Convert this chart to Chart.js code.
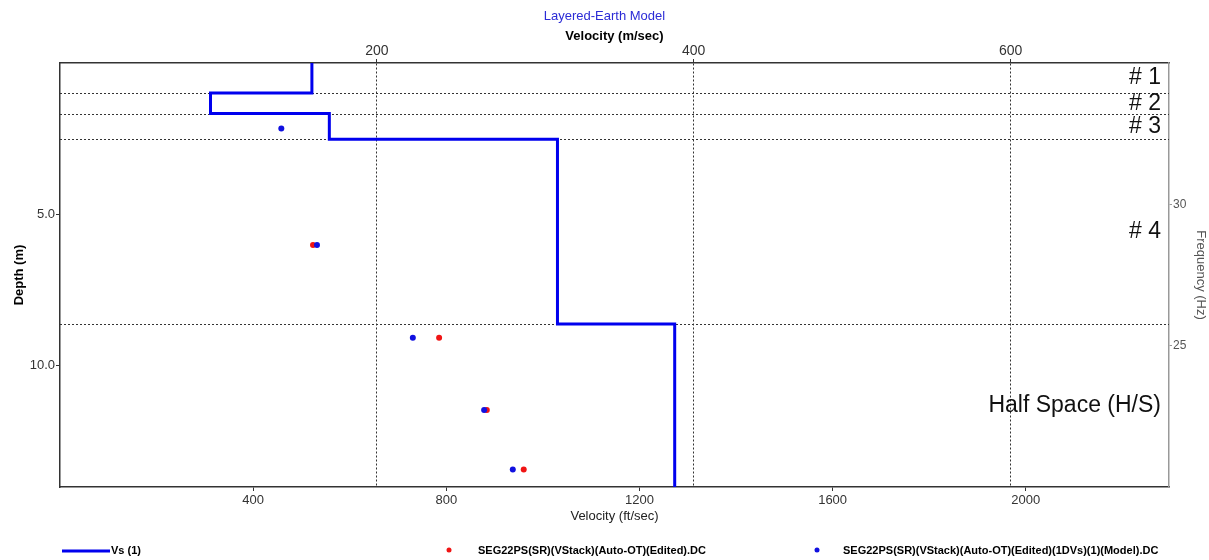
<!DOCTYPE html>
<html>
<head>
<meta charset="utf-8">
<title>Layered-Earth Model</title>
<script src="https://cdn.jsdelivr.net/npm/chart.js@4.4.0/dist/chart.umd.min.js"></script>
<style>
  html, body { margin: 0; padding: 0; background: #fff; }
  canvas { display: block; }
</style>
</head>
<body>
<canvas id="vsChart" width="1209" height="560"></canvas>
<script>
// Layer model: depth to top of each layer (m) and its Vs (m/sec)
const layerTops = [0, 0.99, 1.67, 2.52, 8.62];
const layerVs = [159, 95, 170, 314, 388];
const layerNames = ['# 1', '# 2', '# 3', '# 4', 'Half Space (H/S)'];
const maxDepth = 14;

// Dispersion curve picks (m/sec) at their pseudo-depth (m)
const dcDepth = [6.01, 9.07, 11.46, 13.42];
const dcVel = [159.7, 239.3, 269.4, 292.7];
const modelDepth = [2.16, 6.01, 9.07, 11.46, 13.42];
const modelVel = [139.7, 162.2, 222.7, 267.7, 285.8];

// Axis ticks
const velTicksMs = [200, 400, 600];
const velTicksFt = [400, 800, 1200, 1600, 2000];
const depthTicks = [5, 10];
const freqTicks = [25, 30];
const freqRange = [20, 35];

const maxVelMs = 700;
const FT_PER_M = 3.28084;
const FONT = '"Liberation Sans", Arial, sans-serif';

const VS_BLUE = '#0000ee';
const DC_RED = '#f01414';
const MODEL_BLUE = '#1010e0';

// Turn the layer table into a stepped Vs profile
function stepProfile() {
    const pts = [];
    layerVs.forEach((vs, i) => {
        const bottom = i + 1 < layerTops.length ? layerTops[i + 1] : maxDepth;
        pts.push({ x: vs, y: layerTops[i] });
        pts.push({ x: vs, y: bottom });
    });
    return pts;
}

function toPoints(vel, depth) {
    return vel.map((v, i) => ({ x: v, y: depth[i] }));
}

function fixedTicks(values) {
    return scale => { scale.ticks = values.map(v => ({ value: v })); };
}

// Dotted layer boundaries plus the layer names on the right
const layerPlugin = {
    id: 'layers',
    beforeDatasetsDraw(chart) {
        const { ctx, chartArea, scales } = chart;
        ctx.save();
        ctx.strokeStyle = '#333';
        ctx.lineWidth = 1;
        ctx.setLineDash([2, 2]);
        layerTops.slice(1).forEach(d => {
            const y = Math.round(scales.y.getPixelForValue(d)) + 0.5;
            ctx.beginPath();
            ctx.moveTo(chartArea.left, y);
            ctx.lineTo(chartArea.right, y);
            ctx.stroke();
        });
        ctx.restore();
    },
    afterDatasetsDraw(chart) {
        const { ctx, chartArea, scales } = chart;
        ctx.save();
        ctx.font = '23px ' + FONT;
        ctx.fillStyle = '#111';
        ctx.textAlign = 'right';
        ctx.textBaseline = 'middle';
        layerNames.forEach((name, i) => {
            const bottom = i + 1 < layerTops.length ? layerTops[i + 1] : maxDepth;
            const y = scales.y.getPixelForValue((layerTops[i] + bottom) / 2);
            ctx.fillText(name, chartArea.right - 8, y);
        });
        ctx.restore();
    }
};

// Legend row along the bottom of the canvas
const legendItems = [
    { label: 'Vs (1)', color: VS_BLUE, kind: 'line', x: 62 },
    { label: 'SEG22PS(SR)(VStack)(Auto-OT)(Edited).DC', color: DC_RED, kind: 'dot', x: 449 },
    { label: 'SEG22PS(SR)(VStack)(Auto-OT)(Edited)(1DVs)(1)(Model).DC', color: MODEL_BLUE, kind: 'dot', x: 817 }
];

const bottomLegend = {
    id: 'bottomLegend',
    afterDraw(chart) {
        const { ctx } = chart;
        const y = chart.height - 9;
        ctx.save();
        ctx.font = 'bold 11px ' + FONT;
        ctx.textBaseline = 'middle';
        ctx.fillStyle = '#000';
        legendItems.forEach(item => {
            if (item.kind === 'line') {
                ctx.strokeStyle = item.color;
                ctx.lineWidth = 3;
                ctx.beginPath();
                ctx.moveTo(item.x, y);
                ctx.lineTo(item.x + 48, y);
                ctx.stroke();
                ctx.fillStyle = '#000';
                ctx.fillText(item.label, item.x + 49, y);
            } else {
                ctx.fillStyle = item.color;
                ctx.beginPath();
                ctx.arc(item.x, y - 1, 2.5, 0, Math.PI * 2);
                ctx.fill();
                ctx.fillStyle = '#000';
                ctx.fillText(item.label, item.x + (item.x > 800 ? 26 : 29), y);
            }
        });
        ctx.restore();
    }
};

const ctx = document.getElementById('vsChart').getContext('2d');
new Chart(ctx, {
    type: 'scatter',
    data: {
        datasets: [{
            label: 'SEG22PS(SR)(VStack)(Auto-OT)(Edited)(1DVs)(1)(Model).DC',
            data: toPoints(modelVel, modelDepth),
            xAxisID: 'xm',
            yAxisID: 'y',
            backgroundColor: MODEL_BLUE,
            borderWidth: 0,
            pointRadius: 3,
            order: 0
        }, {
            label: 'SEG22PS(SR)(VStack)(Auto-OT)(Edited).DC',
            data: toPoints(dcVel, dcDepth),
            xAxisID: 'xm',
            yAxisID: 'y',
            backgroundColor: DC_RED,
            borderWidth: 0,
            pointRadius: 3,
            order: 1
        }, {
            label: 'Vs (1)',
            data: stepProfile(),
            xAxisID: 'xm',
            yAxisID: 'y',
            showLine: true,
            borderColor: VS_BLUE,
            borderWidth: 3,
            pointRadius: 0,
            tension: 0,
            order: 2
        }]
    },
    options: {
        responsive: false,
        animation: false,
        layout: { padding: { bottom: 35 } },
        plugins: {
            legend: { display: false },
            tooltip: { enabled: false },
            title: {
                display: true,
                text: 'Layered-Earth Model',
                color: '#2b2bd6',
                font: { family: FONT, size: 13, weight: 'normal' },
                padding: { top: 9, bottom: 0 }
            }
        },
        scales: {
            xm: {
                type: 'linear',
                position: 'top',
                min: 0,
                max: maxVelMs,
                afterBuildTicks: fixedTicks(velTicksMs),
                afterFit: s => { s.height = 38.4; },
                grid: { color: '#333', lineWidth: 1, tickLength: 4, tickColor: '#333' },
                border: { color: '#333', width: 1.5, dash: [2, 2] },
                ticks: { color: '#333', font: { family: FONT, size: 14 }, padding: -1, maxRotation: 0 },
                title: {
                    display: true,
                    text: 'Velocity (m/sec)',
                    color: '#000',
                    font: { family: FONT, size: 13, weight: 'bold' },
                    padding: { top: 4, bottom: 0 }
                }
            },
            xf: {
                type: 'linear',
                position: 'bottom',
                min: 0,
                max: maxVelMs * FT_PER_M,
                afterBuildTicks: fixedTicks(velTicksFt),
                afterFit: s => { s.height = 38; },
                grid: { drawOnChartArea: false, tickLength: 4, tickColor: '#333' },
                border: { color: '#333', width: 1.5 },
                ticks: {
                    color: '#333',
                    font: { family: FONT, size: 13 },
                    padding: 2,
                    maxRotation: 0,
                    callback: v => String(v)
                },
                title: {
                    display: true,
                    text: 'Velocity (ft/sec)',
                    color: '#222',
                    font: { family: FONT, size: 13 },
                    padding: { top: 0, bottom: 1 }
                }
            },
            y: {
                type: 'linear',
                position: 'left',
                reverse: true,
                min: 0,
                max: maxDepth,
                afterBuildTicks: fixedTicks(depthTicks),
                afterFit: s => { s.width = 60; },
                grid: { drawOnChartArea: false, tickLength: 4, tickColor: '#333' },
                border: { color: '#333', width: 1.5 },
                ticks: {
                    color: '#333',
                    font: { family: FONT, size: 13 },
                    padding: 1,
                    callback: v => v.toFixed(1)
                },
                title: {
                    display: true,
                    text: 'Depth (m)',
                    color: '#000',
                    font: { family: FONT, size: 13, weight: 'bold' },
                    padding: { top: 12, bottom: 0 }
                }
            },
            freq: {
                type: 'linear',
                position: 'right',
                min: freqRange[0],
                max: freqRange[1],
                afterBuildTicks: fixedTicks(freqTicks),
                afterFit: s => { s.width = 40; },
                grid: { drawOnChartArea: false, tickLength: 3, tickColor: '#999' },
                border: { color: '#999', width: 1.5 },
                ticks: { color: '#555', font: { family: FONT, size: 12 }, padding: 1 },
                title: {
                    display: true,
                    text: 'Frequency (Hz)',
                    color: '#555',
                    font: { family: FONT, size: 13 },
                    padding: { top: 1, bottom: 0 }
                }
            }
        }
    },
    plugins: [layerPlugin, bottomLegend]
});
</script>
</body>
</html>
